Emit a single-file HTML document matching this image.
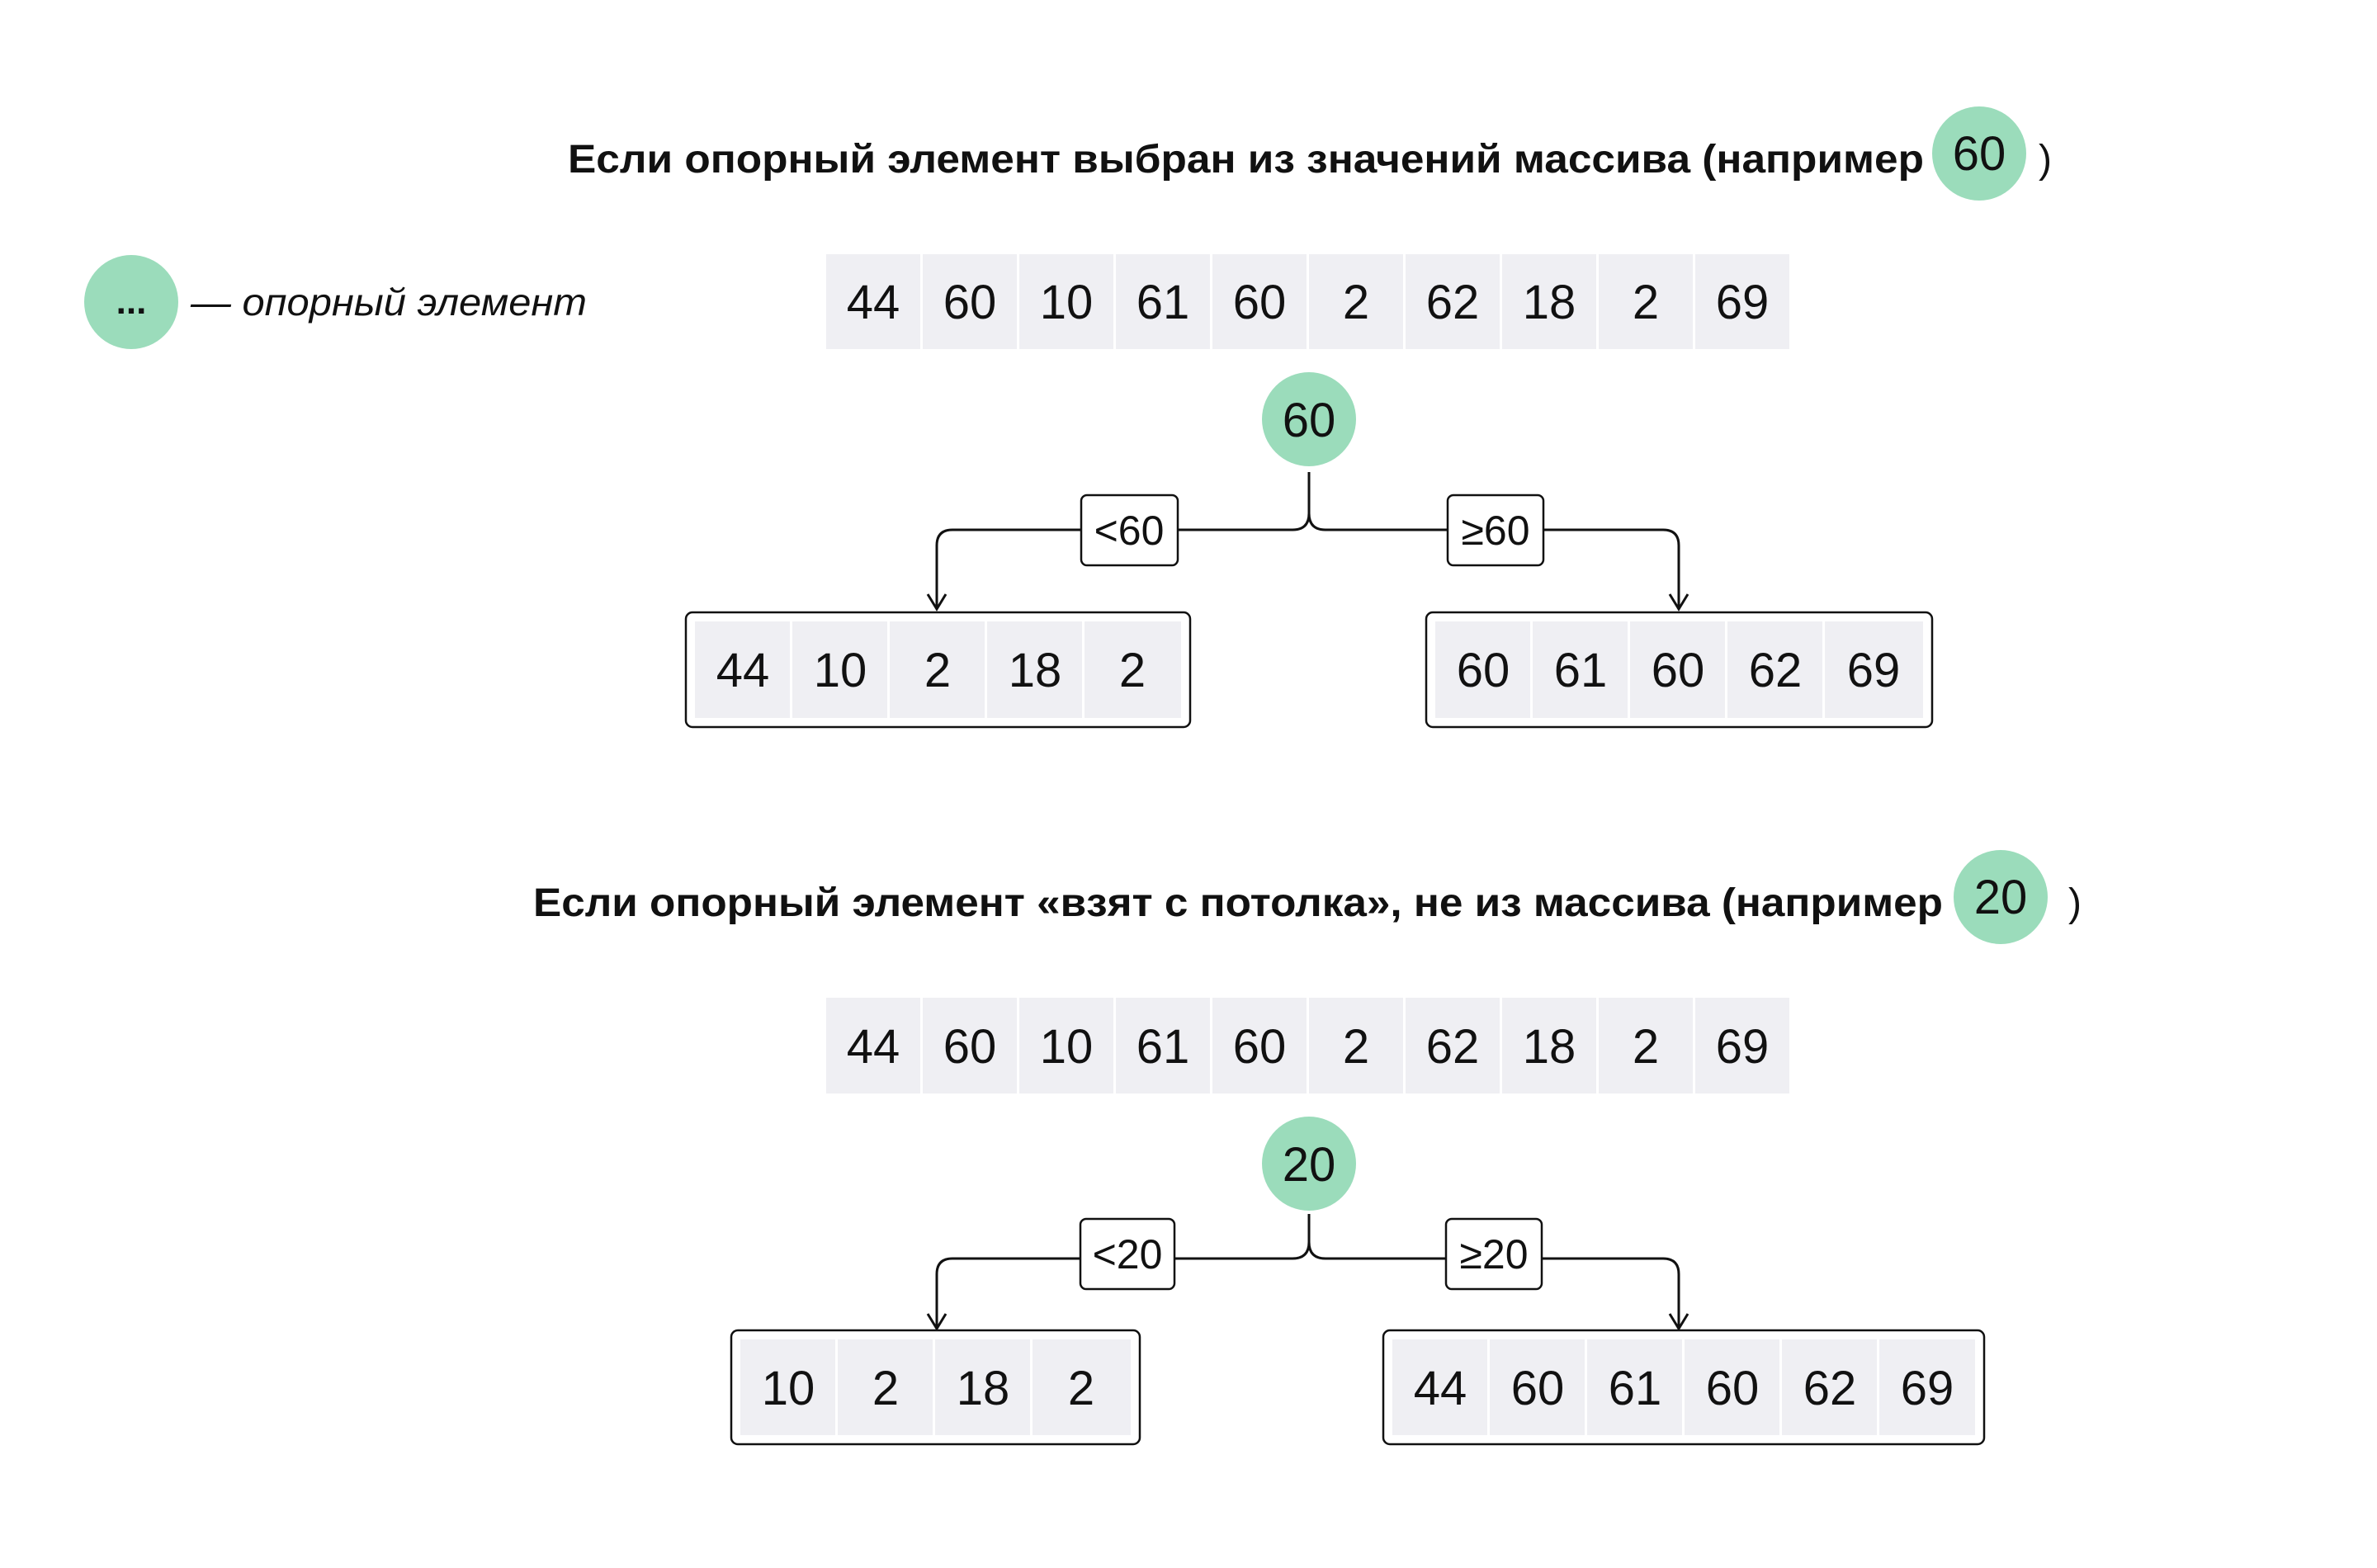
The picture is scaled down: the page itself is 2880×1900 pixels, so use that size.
<!DOCTYPE html>
<html><head><meta charset="utf-8"><style>
html,body{margin:0;padding:0;background:#fff;}
svg{display:block;}
text{font-family:"Liberation Sans",sans-serif;fill:#111;}
.n{font-size:58px;text-anchor:middle;}
.t{font-size:48px;font-weight:bold;}
.l{font-size:50px;text-anchor:middle;}
</style></head><body>
<svg width="2880" height="1900" viewBox="0 0 2880 1900" xmlns="http://www.w3.org/2000/svg">
<rect width="2880" height="1900" fill="#fff"/>
<!-- Title 1 -->
<text class="t" x="688" y="209" textLength="1643" lengthAdjust="spacingAndGlyphs">Если опорный элемент выбран из значений массива (например</text>
<circle cx="2398" cy="186" r="57" fill="#9bdcbb"/>
<text class="n" x="2398" y="206">60</text>
<text class="t" x="2470" y="209" style="font-weight:normal">)</text>
<!-- Legend -->
<circle cx="159" cy="366" r="57" fill="#9bdcbb"/>
<text x="159" y="380" style="font-size:44px;font-weight:bold;text-anchor:middle">...</text>
<text x="231" y="382" style="font-size:46px;font-style:italic" textLength="480" lengthAdjust="spacingAndGlyphs">— опорный элемент</text>
<!-- Array 1 -->
<g fill="#efeff3">
<rect x="1001" y="308" width="114" height="115"/><rect x="1118" y="308" width="114" height="115"/><rect x="1235" y="308" width="114" height="115"/><rect x="1352" y="308" width="114" height="115"/><rect x="1469" y="308" width="114" height="115"/><rect x="1586" y="308" width="114" height="115"/><rect x="1703" y="308" width="114" height="115"/><rect x="1820" y="308" width="114" height="115"/><rect x="1937" y="308" width="114" height="115"/><rect x="2054" y="308" width="114" height="115"/>
</g>
<g class="n">
<text class="n" x="1058" y="386">44</text><text class="n" x="1175" y="386">60</text><text class="n" x="1292" y="386">10</text><text class="n" x="1409" y="386">61</text><text class="n" x="1526" y="386">60</text><text class="n" x="1643" y="386">2</text><text class="n" x="1760" y="386">62</text><text class="n" x="1877" y="386">18</text><text class="n" x="1994" y="386">2</text><text class="n" x="2111" y="386">69</text>
</g>
<circle cx="1586" cy="508" r="57" fill="#9bdcbb"/>
<text class="n" x="1586" y="529">60</text>
<!-- connectors 1 -->
<g fill="none" stroke="#111" stroke-width="3">
<path d="M1586 572 V622 Q1586 642 1566 642 H1154 Q1135 642 1135 661 V737"/>
<path d="M1586 622 Q1586 642 1606 642 H2015 Q2034 642 2034 661 V737"/>
<path d="M1124 720 L1135 738 L1146 720"/>
<path d="M2023 720 L2034 738 L2045 720"/>
</g>
<rect x="1310" y="600" width="117" height="85" rx="7" fill="#fff" stroke="#111" stroke-width="2.5"/>
<text class="l" x="1368" y="660">&lt;60</text>
<rect x="1754" y="600" width="116" height="85" rx="7" fill="#fff" stroke="#111" stroke-width="2.5"/>
<text class="l" x="1812" y="660">≥60</text>
<!-- boxes 1 -->
<rect x="831" y="742" width="611" height="139" rx="8" fill="#fff" stroke="#111" stroke-width="2.5"/>
<g fill="#efeff3"><rect x="842" y="753" width="115" height="117"/><rect x="960" y="753" width="115" height="117"/><rect x="1078" y="753" width="115" height="117"/><rect x="1196" y="753" width="115" height="117"/><rect x="1314" y="753" width="117" height="117"/></g>
<text class="n" x="900" y="832">44</text><text class="n" x="1018" y="832">10</text><text class="n" x="1136" y="832">2</text><text class="n" x="1254" y="832">18</text><text class="n" x="1372" y="832">2</text>
<rect x="1728" y="742" width="613" height="139" rx="8" fill="#fff" stroke="#111" stroke-width="2.5"/>
<g fill="#efeff3"><rect x="1739" y="753" width="115" height="117"/><rect x="1857" y="753" width="115" height="117"/><rect x="1975" y="753" width="115" height="117"/><rect x="2093" y="753" width="115" height="117"/><rect x="2211" y="753" width="119" height="117"/></g>
<text class="n" x="1797" y="832">60</text><text class="n" x="1915" y="832">61</text><text class="n" x="2033" y="832">60</text><text class="n" x="2151" y="832">62</text><text class="n" x="2270" y="832">69</text>

<!-- Title 2 -->
<text class="t" x="646" y="1110" textLength="1708" lengthAdjust="spacingAndGlyphs">Если опорный элемент «взят с потолка», не из массива (например</text>
<circle cx="2424" cy="1087" r="57" fill="#9bdcbb"/>
<text class="n" x="2424" y="1107">20</text>
<text class="t" x="2506" y="1110" style="font-weight:normal">)</text>
<!-- Array 2 -->
<g fill="#efeff3">
<rect x="1001" y="1209" width="114" height="116"/><rect x="1118" y="1209" width="114" height="116"/><rect x="1235" y="1209" width="114" height="116"/><rect x="1352" y="1209" width="114" height="116"/><rect x="1469" y="1209" width="114" height="116"/><rect x="1586" y="1209" width="114" height="116"/><rect x="1703" y="1209" width="114" height="116"/><rect x="1820" y="1209" width="114" height="116"/><rect x="1937" y="1209" width="114" height="116"/><rect x="2054" y="1209" width="114" height="116"/>
</g>
<text class="n" x="1058" y="1288">44</text><text class="n" x="1175" y="1288">60</text><text class="n" x="1292" y="1288">10</text><text class="n" x="1409" y="1288">61</text><text class="n" x="1526" y="1288">60</text><text class="n" x="1643" y="1288">2</text><text class="n" x="1760" y="1288">62</text><text class="n" x="1877" y="1288">18</text><text class="n" x="1994" y="1288">2</text><text class="n" x="2111" y="1288">69</text>
<circle cx="1586" cy="1410" r="57" fill="#9bdcbb"/>
<text class="n" x="1586" y="1431">20</text>
<!-- connectors 2 -->
<g fill="none" stroke="#111" stroke-width="3">
<path d="M1586 1471 V1505 Q1586 1525 1566 1525 H1154 Q1135 1525 1135 1544 V1609"/>
<path d="M1586 1505 Q1586 1525 1606 1525 H2015 Q2034 1525 2034 1544 V1609"/>
<path d="M1124 1592 L1135 1610 L1146 1592"/>
<path d="M2023 1592 L2034 1610 L2045 1592"/>
</g>
<rect x="1309" y="1477" width="114" height="85" rx="7" fill="#fff" stroke="#111" stroke-width="2.5"/>
<text class="l" x="1366" y="1537">&lt;20</text>
<rect x="1752" y="1477" width="116" height="85" rx="7" fill="#fff" stroke="#111" stroke-width="2.5"/>
<text class="l" x="1810" y="1537">≥20</text>
<!-- boxes 2 -->
<rect x="886" y="1612" width="495" height="138" rx="8" fill="#fff" stroke="#111" stroke-width="2.5"/>
<g fill="#efeff3"><rect x="897" y="1623" width="115" height="116"/><rect x="1015" y="1623" width="115" height="116"/><rect x="1133" y="1623" width="115" height="116"/><rect x="1251" y="1623" width="119" height="116"/></g>
<text class="n" x="955" y="1702">10</text><text class="n" x="1073" y="1702">2</text><text class="n" x="1191" y="1702">18</text><text class="n" x="1310" y="1702">2</text>
<rect x="1676" y="1612" width="728" height="138" rx="8" fill="#fff" stroke="#111" stroke-width="2.5"/>
<g fill="#efeff3"><rect x="1687" y="1623" width="115" height="116"/><rect x="1805" y="1623" width="115" height="116"/><rect x="1923" y="1623" width="115" height="116"/><rect x="2041" y="1623" width="115" height="116"/><rect x="2159" y="1623" width="115" height="116"/><rect x="2277" y="1623" width="116" height="116"/></g>
<text class="n" x="1745" y="1702">44</text><text class="n" x="1863" y="1702">60</text><text class="n" x="1981" y="1702">61</text><text class="n" x="2099" y="1702">60</text><text class="n" x="2217" y="1702">62</text><text class="n" x="2335" y="1702">69</text>
</svg>
</body></html>
